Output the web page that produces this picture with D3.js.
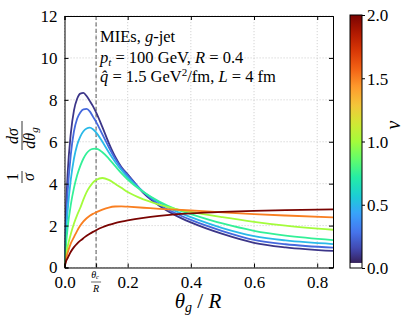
<!DOCTYPE html>
<html><head><meta charset="utf-8">
<script src="https://cdn.jsdelivr.net/npm/d3@7"></script>
<style>
body{margin:0;background:#fff}
svg{display:block}
text{font-family:"Liberation Serif","DejaVu Serif",serif;fill:#000}
</style>
</head><body>
<svg id="chart" width="415" height="324"></svg>
<script>
// ---------------- data ----------------
const thetaGrid = [0,0.005,0.01,0.02,0.03,0.04,0.05,0.06,0.07,0.08,0.09,0.1,0.12,0.14,0.16,0.18,0.2,0.25,0.3,0.35,0.4,0.5,0.6,0.7,0.85];
const nuValues = [0.1,0.25,0.5,0.75,1.0,1.5,2.0];
const curveNu010 = [0,2.8,4.5,6.4,7.5,8.05,8.3,8.33,8.18,7.95,7.7,7.4,6.7,5.95,5.3,4.8,4.45,3.55,2.95,2.5,2.15,1.6,1.18,0.96,0.79];
const curveNu025 = [0,2.2,3.6,5.4,6.5,7.1,7.4,7.55,7.57,7.45,7.2,6.95,6.35,5.75,5.2,4.75,4.4,3.6,3.0,2.6,2.27,1.74,1.32,1.11,0.95];
const curveNu050 = [0,1.6,2.7,4.2,5.2,5.85,6.25,6.5,6.63,6.67,6.6,6.45,6.0,5.5,5.05,4.65,4.3,3.6,3.1,2.7,2.4,1.88,1.5,1.29,1.12];
const curveNu075 = [0,1.1,1.9,3.0,3.8,4.4,4.85,5.2,5.45,5.6,5.66,5.67,5.5,5.2,4.85,4.5,4.2,3.6,3.15,2.8,2.55,2.1,1.75,1.52,1.31];
const curveNu100 = [0,0.6,1.0,1.6,2.1,2.5,2.85,3.25,3.6,3.85,4.05,4.17,4.27,4.18,4.0,3.8,3.6,3.25,3.0,2.8,2.65,2.4,2.18,2.0,1.8];
const curveNu150 = [0,0.4,0.7,1.15,1.45,1.75,2.0,2.2,2.35,2.47,2.56,2.63,2.76,2.86,2.91,2.92,2.9,2.85,2.8,2.76,2.72,2.63,2.55,2.48,2.39];
const curveNu200 = [0,0.3,0.45,0.75,0.97,1.14,1.28,1.4,1.51,1.61,1.7,1.78,1.92,2.03,2.12,2.19,2.25,2.37,2.46,2.53,2.58,2.65,2.7,2.74,2.77];
const seriesValues = [curveNu010,curveNu025,curveNu050,curveNu075,curveNu100,curveNu150,curveNu200];
const xTicks = [0,0.2,0.4,0.6,0.8];
const yTicks = [0,2,4,6,8,10,12];
const cbTicks = [0,0.5,1.0,1.5,2.0];
const thetaC = 0.1;
// matplotlib turbo samples
const turboStops = ["#30123b","#4145ab","#4675ed","#39a2fc","#1bcfd4","#24eca6","#61fc6c","#a4fc3b","#d1e834","#f3c63a","#fe9b2d","#f36315","#d93806","#b11901","#7a0402"];

// ---------------- layout ----------------
const svg = d3.select("#chart");
const L = 64.5, R = 333, T = 16, B = 267.5;
const x = d3.scaleLinear().domain([0,0.85]).range([L,R]);
const y = d3.scaleLinear().domain([0,12]).range([B,T]);
const turbo = d3.piecewise(d3.interpolateRgb, turboStops);
const color = d3.scaleSequential(turbo).domain([0,2]);

// grid
const grid = svg.append("g").attr("stroke","#c8c8c8").attr("stroke-width",0.8).attr("stroke-dasharray","1.2,1.8");
grid.selectAll("line.gx").data(xTicks.concat([thetaC])).join("line")
  .attr("x1",d=>x(d)).attr("x2",d=>x(d)).attr("y1",T).attr("y2",B);
grid.selectAll("line.gy").data(yTicks).join("line").attr("class","gy")
  .attr("x1",L).attr("x2",R).attr("y1",d=>y(d)).attr("y2",d=>y(d));

// theta_c dashed line
svg.append("line").attr("x1",x(thetaC)).attr("x2",x(thetaC)).attr("y1",T).attr("y2",B)
  .attr("stroke","#5a5a5a").attr("stroke-width",1).attr("stroke-dasharray","4,2.5");

// curves
svg.append("clipPath").attr("id","clip").append("rect").attr("x",L).attr("y",T).attr("width",R-L).attr("height",B-T);
const line = d3.line().x((d,i)=>x(thetaGrid[i])).y(d=>y(d)).curve(d3.curveMonotoneX);
svg.append("g").attr("clip-path","url(#clip)").selectAll("path").data(seriesValues).join("path")
  .attr("d",line).attr("fill","none").attr("stroke-width",1.8)
  .attr("stroke",(d,i)=>color(nuValues[i]));

// axes
const fs = 17;
const ax = svg.append("g").attr("transform",`translate(0,${B})`)
  .call(d3.axisBottom(x).tickValues(xTicks.concat([thetaC])).tickSize(-4).tickPadding(8).tickFormat(d=>d===thetaC?"":d3.format(".1f")(d)));
const ay = svg.append("g").attr("transform",`translate(${L},0)`)
  .call(d3.axisLeft(y).tickValues(yTicks).tickSize(-4).tickPadding(7).tickFormat(d3.format("d")));
const at = svg.append("g").attr("transform",`translate(0,${T})`)
  .call(d3.axisTop(x).tickValues(xTicks).tickSize(-4).tickFormat(""));
const ar = svg.append("g").attr("transform",`translate(${R},0)`)
  .call(d3.axisRight(y).tickValues(yTicks).tickSize(-4).tickFormat(""));
[ax,ay,at,ar].forEach(a=>{
  a.selectAll("path").attr("stroke","#000").attr("stroke-width",1);
  a.selectAll("line").attr("stroke","#000");
  a.selectAll("text").attr("font-family","Liberation Serif").attr("font-size",fs).attr("fill","#000");
});
ax.selectAll("text").attr("dy","0.72em");
ay.selectAll("text").attr("dy","0.32em");

// theta_c/R tick label (small fraction)
const tc = svg.append("g").attr("transform",`translate(${x(thetaC)},0)`).attr("font-size",10);
tc.append("text").attr("x",-1).attr("y",278).attr("text-anchor","middle").attr("font-style","italic")
  .html('θ<tspan font-size="6.5" dy="1">c</tspan>');
tc.append("line").attr("x1",-5).attr("x2",5).attr("y1",282).attr("y2",282).attr("stroke","#000").attr("stroke-width",0.6);
tc.append("text").attr("x",0).attr("y",292).attr("text-anchor","middle").attr("font-style","italic").text("R");

// x label
svg.append("text").attr("x",198).attr("y",308).attr("text-anchor","middle").attr("font-size",21)
  .html('<tspan font-style="italic">θ</tspan><tspan font-style="italic" font-size="14" dy="4">g</tspan><tspan dy="-4"> / </tspan><tspan font-style="italic">R</tspan>');

// y label (stacked fractions, rotated)
const yl = svg.append("g").attr("transform","translate(22,148) rotate(-90)").attr("font-size",16);
yl.append("text").attr("x",-29).attr("y",-4).attr("text-anchor","middle").text("1");
yl.append("line").attr("x1",-35).attr("x2",-23).attr("y1",0).attr("y2",0).attr("stroke","#000").attr("stroke-width",0.8);
yl.append("text").attr("x",-29).attr("y",12).attr("text-anchor","middle").attr("font-style","italic").text("σ");
yl.append("text").attr("x",12).attr("y",-4).attr("text-anchor","middle").attr("font-style","italic").text("dσ");
yl.append("line").attr("x1",-2).attr("x2",27).attr("y1",0).attr("y2",0).attr("stroke","#000").attr("stroke-width",0.8);
yl.append("text").attr("x",10).attr("y",13).attr("text-anchor","middle").attr("font-style","italic")
  .html('dθ<tspan font-size="11" dy="3">g</tspan>');

// annotation
const ann = svg.append("g").attr("font-size",16.5);
ann.append("text").attr("x",100).attr("y",42).html('MIEs, <tspan font-style="italic">g</tspan>-jet');
ann.append("text").attr("x",100).attr("y",62.5)
  .html('<tspan font-style="italic">p</tspan><tspan font-style="italic" font-size="11" dy="3">t</tspan><tspan dy="-3"> = 100 GeV, </tspan><tspan font-style="italic">R</tspan> = 0.4');
ann.append("text").attr("x",100).attr("y",82)
  .html('<tspan font-style="italic">q̂</tspan> = 1.5 GeV<tspan font-size="11" dy="-6">2</tspan><tspan dy="6">/fm, </tspan><tspan font-style="italic">L</tspan> = 4 fm');

// colorbar
const cbX = 350, cbW = 12, cbT = 15, cbB = 268;
const cy = d3.scaleLinear().domain([0,2]).range([cbB,cbT]);
const grad = svg.append("defs").append("linearGradient").attr("id","cbgrad")
  .attr("x1",0).attr("y1",1).attr("x2",0).attr("y2",0);
d3.range(0,1.0001,0.02).forEach(t=>grad.append("stop").attr("offset",t).attr("stop-color",turbo(t)));
svg.append("rect").attr("x",cbX).attr("y",cbT).attr("width",cbW).attr("height",cbB-cbT).attr("fill","url(#cbgrad)");
svg.append("rect").attr("x",cbX).attr("y",cy(0.04)).attr("width",cbW).attr("height",cbB-cy(0.04)).attr("fill","#fff");
svg.append("rect").attr("x",cbX).attr("y",cbT).attr("width",cbW).attr("height",cbB-cbT).attr("fill","none").attr("stroke","#000").attr("stroke-width",1);
const ac = svg.append("g").attr("transform",`translate(${cbX+cbW},0)`)
  .call(d3.axisRight(cy).tickValues(cbTicks).tickSize(3).tickPadding(2).tickFormat(d3.format(".1f")));
ac.select("path").remove();
ac.selectAll("line").attr("stroke","#000");
ac.selectAll("text").attr("font-family","Liberation Serif").attr("font-size",fs).attr("fill","#000").attr("dy","0.35em");
svg.append("text").attr("transform","translate(400,125) rotate(-90)").attr("text-anchor","middle")
  .attr("font-size",20).attr("font-style","italic").text("v");
</script>
</body></html>
